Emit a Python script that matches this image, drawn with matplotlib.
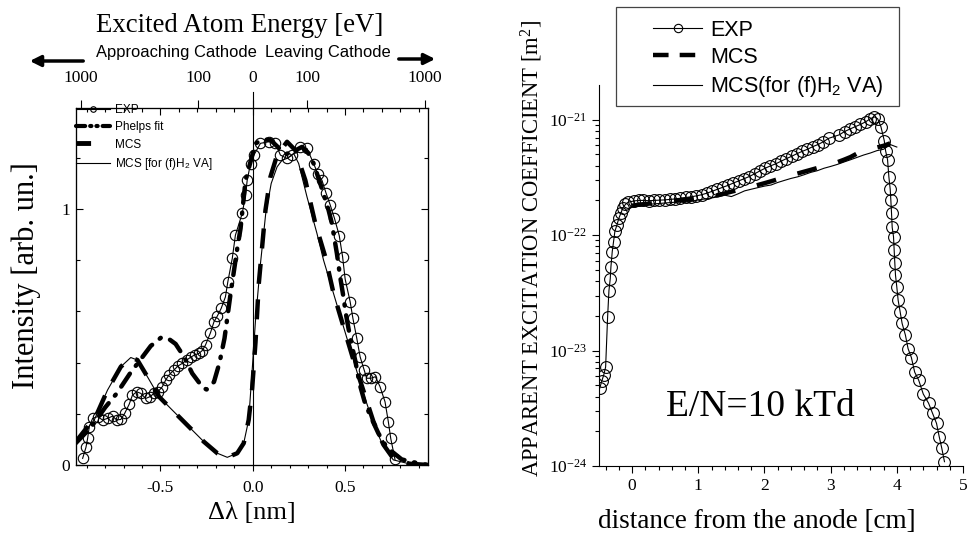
import numpy as np
import matplotlib
matplotlib.use("Agg")
import matplotlib.pyplot as plt
from matplotlib.lines import Line2D
from matplotlib.patches import Rectangle, FancyArrowPatch
from matplotlib.ticker import MultipleLocator, FixedLocator, NullLocator, FixedFormatter

plt.rcParams['font.family'] = 'Liberation Serif'
plt.rcParams['mathtext.fontset'] = 'custom'
plt.rcParams['mathtext.rm'] = 'Liberation Serif'
plt.rcParams['mathtext.it'] = 'Liberation Serif:italic'
plt.rcParams['mathtext.sf'] = 'Liberation Sans'

# ---------------- left panel data (delta lambda [nm], intensity) ----------------
exp_x = [-0.922, -0.904, -0.895, -0.886, -0.868, -0.841, -0.814, -0.787, -0.760, -0.737,
         -0.715, -0.694, -0.670, -0.652, -0.629, -0.607, -0.580, -0.557, -0.535, -0.514,
         -0.490, -0.472, -0.454, -0.427, -0.405, -0.382, -0.358, -0.337, -0.315, -0.292,
         -0.274, -0.256, -0.229, -0.210, -0.192, -0.171, -0.148, -0.135, -0.111, -0.094,
         -0.057, -0.039, -0.030, -0.012, 0.006, 0.042, 0.087, 0.123, 0.150, 0.186,
         0.213, 0.258, 0.294, 0.330, 0.352, 0.375, 0.398, 0.420, 0.443, 0.469,
         0.487, 0.501, 0.528, 0.543, 0.564, 0.582, 0.604, 0.618, 0.640, 0.665,
         0.690, 0.717, 0.735, 0.748, 0.771]
exp_y = [0.026, 0.069, 0.104, 0.150, 0.182, 0.189, 0.176, 0.182, 0.191, 0.176,
         0.178, 0.202, 0.237, 0.273, 0.286, 0.280, 0.260, 0.267, 0.280, 0.286,
         0.306, 0.332, 0.352, 0.371, 0.387, 0.397, 0.410, 0.421, 0.430, 0.436,
         0.447, 0.469, 0.517, 0.560, 0.582, 0.612, 0.657, 0.716, 0.807, 0.898,
         0.983, 1.055, 1.113, 1.178, 1.211, 1.257, 1.263, 1.257, 1.211, 1.198,
         1.211, 1.243, 1.237, 1.178, 1.139, 1.113, 1.061, 1.016, 0.964, 0.896,
         0.814, 0.726, 0.638, 0.573, 0.495, 0.423, 0.371, 0.339, 0.339, 0.345,
         0.306, 0.247, 0.169, 0.104, 0.022]

phelps_x = [-0.96, -0.90, -0.86, -0.80, -0.737, -0.665, -0.60, -0.553, -0.495, -0.45,
            -0.418, -0.37, -0.328, -0.27, -0.25, -0.21, -0.18, -0.153, -0.12, -0.084,
            -0.066, -0.039, 0.015, 0.06, 0.096, 0.14, 0.18, 0.22, 0.267, 0.30,
            0.33, 0.366, 0.411, 0.429, 0.456, 0.475, 0.492, 0.505, 0.52, 0.535,
            0.555, 0.582, 0.609, 0.645, 0.681, 0.726, 0.807, 0.862, 0.95]
phelps_y = [0.085, 0.13, 0.163, 0.225, 0.28, 0.358, 0.42, 0.465, 0.499, 0.49,
            0.473, 0.42, 0.358, 0.302, 0.295, 0.325, 0.40, 0.495, 0.67, 0.846,
            0.924, 1.113, 1.257, 1.272, 1.27, 1.24, 1.215, 1.225, 1.243, 1.22,
            1.178, 1.10, 0.996, 0.944, 0.827, 0.73, 0.655, 0.59, 0.53, 0.475,
            0.41, 0.31, 0.241, 0.18, 0.124, 0.069, 0.022, 0.012, 0.0]

mcs_x = [-0.96, -0.90, -0.859, -0.787, -0.715, -0.661, -0.625, -0.571, -0.508, -0.445,
         -0.355, -0.265, -0.192, -0.138, -0.084, -0.049, -0.022, -0.003, 0.015, 0.033,
         0.069, 0.096, 0.132, 0.186, 0.231, 0.285, 0.339, 0.393, 0.438, 0.492,
         0.546, 0.60, 0.654, 0.708, 0.762, 0.85, 0.95]
mcs_y = [0.09, 0.145, 0.176, 0.293, 0.384, 0.42, 0.41, 0.345, 0.267, 0.221,
         0.156, 0.091, 0.046, 0.03, 0.046, 0.085, 0.176, 0.30, 0.48, 0.71,
         0.996, 1.126, 1.211, 1.263, 1.23, 1.113, 0.944, 0.814, 0.671, 0.54,
         0.41, 0.29, 0.17, 0.08, 0.025, 0.005, 0.0]

mcsva_x = [-0.96, -0.949, -0.859, -0.787, -0.715, -0.661, -0.625, -0.571, -0.508, -0.445,
           -0.355, -0.265, -0.192, -0.138, -0.084, -0.049, -0.022, -0.003, 0.015, 0.042,
           0.07, 0.10, 0.132, 0.159, 0.186, 0.222, 0.249, 0.294, 0.348, 0.384,
           0.438, 0.492, 0.546, 0.60, 0.654, 0.708, 0.762, 0.852, 0.95]
mcsva_y = [0.085, 0.098, 0.176, 0.293, 0.384, 0.42, 0.41, 0.345, 0.267, 0.221,
           0.156, 0.091, 0.046, 0.03, 0.046, 0.085, 0.176, 0.371, 0.566, 0.788,
           0.98, 1.10, 1.165, 1.191, 1.198, 1.217, 1.178, 1.048, 0.905, 0.80,
           0.67, 0.54, 0.41, 0.28, 0.163, 0.072, 0.02, 0.004, 0.0]

energy_ticks = [1000, 100, 0, 100, 1000]
energy_sign = [-1, -1, 0, 1, 1]
nm_per_sqrt_ev = 0.0295   # Doppler shift per sqrt(eV)

# ---------------- right panel data (distance [cm], coefficient [m^2]) ----------------
dist_exp = [-0.49, -0.46, -0.43, -0.40, -0.37, -0.35, -0.33, -0.32, -0.30, -0.28,
            -0.26, -0.23, -0.20, -0.17, -0.14, -0.10, -0.06,
            0.03, 0.10, 0.17, 0.25, 0.33, 0.41, 0.49, 0.57, 0.65, 0.73,
            0.81, 0.89, 0.97, 1.05, 1.13, 1.21, 1.29, 1.37, 1.45, 1.53,
            1.61, 1.69, 1.77, 1.85, 1.93, 2.01, 2.09, 2.17, 2.25, 2.33,
            2.41, 2.49, 2.57, 2.65, 2.73, 2.81, 2.89, 2.97, 3.13, 3.21,
            3.29, 3.37, 3.45, 3.53, 3.60, 3.66, 3.71, 3.76, 3.81, 3.83,
            3.86, 3.88, 3.90, 3.91, 3.92, 3.93, 3.95, 3.96, 3.97, 3.98,
            4.00, 4.02, 4.05, 4.08, 4.13, 4.17, 4.22, 4.27, 4.33, 4.40,
            4.48, 4.54, 4.60, 4.64, 4.68, 4.72]
coef_exp = [0.047, 0.054, 0.061, 0.072, 0.195, 0.33, 0.42, 0.53, 0.72, 0.88,
            1.08, 1.22, 1.40, 1.55, 1.72, 1.85, 1.93,
            1.98, 2.00, 2.00, 1.99, 2.00, 2.01, 2.02, 2.04, 2.06, 2.09,
            2.12, 2.15, 2.19, 2.24, 2.31, 2.40, 2.50, 2.60, 2.70, 2.83,
            2.95, 3.08, 3.22, 3.40, 3.60, 3.80, 3.98, 4.15, 4.37, 4.60,
            4.82, 5.08, 5.32, 5.55, 5.85, 6.10, 6.45, 6.90, 7.40, 7.90,
            8.30, 8.70, 9.10, 9.60, 10.2, 10.6, 10.2, 8.7, 6.6, 5.4,
            4.5, 3.2, 2.5, 2.0, 1.55, 1.17, 0.97, 0.74, 0.57, 0.45,
            0.355, 0.273, 0.217, 0.172, 0.136, 0.104, 0.087, 0.065, 0.0555, 0.042,
            0.035, 0.0286, 0.0234, 0.018, 0.0142, 0.0109]

dist_mcs = [0.0, 0.1, 0.2, 0.3, 0.4, 0.5, 0.6, 0.7, 0.8, 0.9,
            1.0, 1.1, 1.2, 1.3, 1.4, 1.5, 1.6, 1.7, 1.8, 1.9,
            2.0, 2.1, 2.2, 2.3, 2.4, 2.5, 2.6, 2.7, 2.8, 2.9,
            3.0, 3.1, 3.2, 3.3, 3.4, 3.5, 3.6, 3.7, 3.8, 3.9]
coef_mcs = [1.80, 1.84, 1.86, 1.89, 1.92, 1.95, 1.98, 2.00, 2.03, 2.06,
            2.10, 2.14, 2.18, 2.22, 2.30, 2.38, 2.46, 2.54, 2.62, 2.72,
            2.82, 2.93, 3.05, 3.18, 3.30, 3.42, 3.55, 3.68, 3.82, 3.98,
            4.12, 4.28, 4.50, 4.75, 5.10, 5.35, 5.55, 5.75, 5.95, 6.25]

dist_va = [0.0, 0.1, 0.2, 0.3, 0.4, 0.5, 0.6, 0.7, 0.8, 0.9,
           1.0, 1.1, 1.2, 1.3, 1.4, 1.5, 1.6, 1.7, 1.8, 1.9,
           2.0, 2.1, 2.2, 2.3, 2.4, 2.5, 2.6, 2.7, 2.8, 2.9,
           3.0, 3.1, 3.2, 3.3, 3.4, 3.5, 3.6, 3.7, 3.8, 3.9, 4.0]
coef_va = [1.76, 1.80, 1.84, 1.86, 1.88, 1.90, 1.92, 1.94, 1.93, 1.97,
           2.02, 2.06, 2.10, 2.15, 2.22, 2.16, 2.28, 2.42, 2.50, 2.58,
           2.66, 2.72, 2.86, 2.98, 3.10, 3.20, 3.34, 3.50, 3.62, 3.80,
           3.94, 4.10, 4.30, 4.50, 4.72, 4.95, 5.15, 5.40, 5.55, 6.10, 5.80]

decades = [-24, -23, -22, -21]

fig = plt.figure(figsize=(9.67, 5.34), dpi=100)
W, H = 967.0, 534.0

# ======================= left panel =======================
ax = fig.add_axes([76 / W, 1 - 465 / H, (428 - 76) / W, (465 - 108) / H])
xlim = (-0.958, 0.95)
ax.set_xlim(*xlim)
ax.set_ylim(0, 1.395)

ax.plot(mcsva_x, mcsva_y, color='k', lw=0.8)
ax.plot(mcs_x, mcs_y, color='k', lw=3.2, linestyle=(0, (4.5, 3.5)))
ax.plot(phelps_x, phelps_y, color='k', lw=3.2, linestyle=(0, (3.5, 2.2, 0.3, 2.2)),
        dash_capstyle='round')
ax.plot(exp_x, exp_y, color='k', lw=0.8, marker='o', ms=7.5, mfc='none', mec='k', mew=0.8)
ax.axvline(0, ymin=0, ymax=1.045, color='k', lw=0.8, clip_on=False)

ax.set_xticks([-0.5, 0.0, 0.5])
ax.set_xticklabels(['-0.5', '0.0', '0.5'])
ax.xaxis.set_minor_locator(MultipleLocator(0.1))
ax.yaxis.set_major_locator(FixedLocator([0, 1]))
ax.yaxis.set_minor_locator(MultipleLocator(0.2))
ax.tick_params(axis='x', which='major', direction='out', length=4, width=0.8, labelsize=12.5, pad=7)
ax.tick_params(axis='x', which='minor', direction='out', length=2.5, width=0.8)
ax.tick_params(axis='y', which='major', direction='in', length=5, width=0.8, labelsize=12.5,
               right=True, pad=4)
ax.tick_params(axis='y', which='minor', direction='in', length=3, width=0.8, right=True)
ax.set_xlabel('Δλ [nm]', fontsize=19, labelpad=4)
ax.set_ylabel('Intensity [arb. un.]', fontsize=22)
ax.yaxis.set_label_coords(-0.1, 0.53)

# mirrored top ticks (inward)
axm = ax.twiny()
axm.set_xlim(*xlim)
axm.xaxis.set_major_locator(MultipleLocator(0.5))
axm.xaxis.set_minor_locator(MultipleLocator(0.1))
axm.tick_params(axis='x', which='major', direction='in', length=5, width=0.8, labeltop=False)
axm.tick_params(axis='x', which='minor', direction='in', length=3, width=0.8)

# energy scale (outward)
axe = ax.twiny()
axe.set_xlim(*xlim)
pos = [s * nm_per_sqrt_ev * np.sqrt(e) for s, e in zip(energy_sign, energy_ticks)]
axe.set_xticks(pos)
axe.set_xticklabels([str(e) for e in energy_ticks])
axe.xaxis.set_minor_locator(NullLocator())
axe.tick_params(axis='x', direction='out', length=6, width=0.8, labelsize=12.5, pad=10)

leg_handles = [
    Line2D([], [], color='k', lw=0.8, marker='o', ms=4, mfc='none', mew=0.8),
    Line2D([], [], color='k', lw=3, linestyle=(0, (2.2, 1.2, 0.3, 1.2, 0.3, 1.2)),
           dash_capstyle='round'),
    Line2D([], [], color='k', lw=3.5, linestyle=(0, (3, 6))),
    Line2D([], [], color='k', lw=0.8),
]
leg_labels = ['EXP', 'Phelps fit', 'MCS', r'MCS [for (f)H$_\mathsf{2}$ VA]']
fig.legend(leg_handles, leg_labels, loc='upper left', bbox_to_anchor=(76 / W, 1 - 104 / H),
           frameon=False, prop={'family': 'Liberation Sans', 'size': 8.5},
           handlelength=2.9, handletextpad=0.4, labelspacing=0.45, borderpad=0,
           borderaxespad=0)

# header texts
fig.text(240 / W, 1 - 25 / H, 'Excited Atom Energy [eV]', ha='center', va='center', fontsize=19.3)
fig.text(176 / W, 1 - 52 / H, 'Approaching Cathode', ha='center', va='center',
         fontsize=11.9, family='Liberation Sans')
fig.text(328 / W, 1 - 52 / H, 'Leaving Cathode', ha='center', va='center',
         fontsize=11.9, family='Liberation Sans')
fig.add_artist(FancyArrowPatch((86 / W, 1 - 61 / H), (27 / W, 1 - 61 / H),
               transform=fig.transFigure, arrowstyle='-|>', mutation_scale=16, lw=2.5, color='k'))
fig.add_artist(FancyArrowPatch((396 / W, 1 - 59 / H), (438 / W, 1 - 59 / H),
               transform=fig.transFigure, arrowstyle='-|>', mutation_scale=16, lw=2.5, color='k'))

# ======================= right panel =======================
ax2 = fig.add_axes([599 / W, 1 - 466 / H, (963 - 599) / W, (466 - 85) / H])
ax2.set_yscale('log')
ax2.set_xlim(-0.5, 5)
ax2.set_ylim(1e-24, 2.0e-21)

ax2.plot(dist_va, np.array(coef_va) * 1e-22, color='k', lw=0.8)
ax2.plot(dist_mcs, np.array(coef_mcs) * 1e-22, color='k', lw=3.2, linestyle=(0, (4.5, 5)))
ax2.plot(dist_exp, np.array(coef_exp) * 1e-22, color='k', lw=0.8, marker='o', ms=8.5,
         mfc='none', mec='k', mew=0.8)

ax2.spines['top'].set_visible(False)
ax2.spines['right'].set_visible(False)
ax2.xaxis.set_major_locator(MultipleLocator(1))
ax2.xaxis.set_minor_locator(MultipleLocator(0.2))
ax2.yaxis.set_major_locator(FixedLocator([10.0 ** d for d in decades]))
ax2.yaxis.set_major_formatter(FixedFormatter([r'$10^{%d}$' % d for d in decades]))
minor_pos = [m * 10.0 ** d for d in decades for m in range(2, 10) if m * 10.0 ** d < 2.0e-21]
ax2.yaxis.set_minor_locator(FixedLocator(minor_pos))
ax2.tick_params(axis='both', which='major', direction='out', length=5, width=0.8, labelsize=12.5)
ax2.tick_params(axis='both', which='minor', direction='out', length=3, width=0.8)
ax2.tick_params(axis='y', which='minor', labelleft=False)
ax2.set_xlabel('distance from the anode [cm]', fontsize=19.5)
ax2.xaxis.set_label_coords(0.434, -0.112)
ax2.set_ylabel(r'APPARENT EXCITATION COEFFICIENT [m$^2$]', fontsize=16.3)
ax2.yaxis.set_label_coords(-0.148, 0.572)
ax2.text(0.442, 0.155, 'E/N=10 kTd', transform=ax2.transAxes, ha='center', va='center', fontsize=27)

h2 = [Line2D([], [], color='k', lw=0.8, marker='o', ms=6, mfc='none', mew=0.8),
      Line2D([], [], color='k', lw=3.2, linestyle=(0, (3.5, 2.5))),
      Line2D([], [], color='k', lw=0.8)]
l2 = ['EXP', 'MCS', r'MCS(for (f)H$_\mathsf{2}$ VA)']
fig.legend(h2, l2, loc='upper left', bbox_to_anchor=(653 / W, 1 - 20 / H),
           frameon=False, prop={'family': 'Liberation Sans', 'size': 15.5},
           handlelength=2.28, handletextpad=0.37, labelspacing=0.28,
           borderpad=0, borderaxespad=0)
fig.add_artist(Rectangle((616 / W, 1 - 106 / H), (899 - 616) / W, (106 - 7) / H,
                         transform=fig.transFigure, fill=False, edgecolor='#444444', lw=0.9))

fig.savefig('out.png', dpi=100)
